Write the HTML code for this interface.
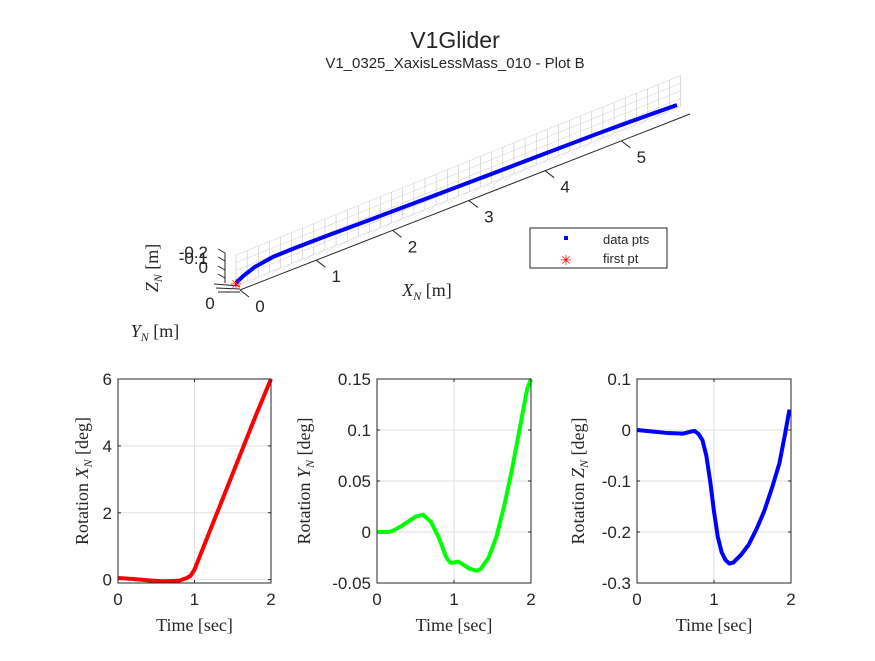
<!DOCTYPE html>
<html><head><meta charset="utf-8"><style>
body{margin:0;background:#fff;}
svg text{font-family:"Liberation Sans",sans-serif;fill:#262626;}
.ser{font-family:"Liberation Serif",serif;}
</style></head><body>
<svg id="fig" width="875" height="656" viewBox="0 0 875 656" xmlns="http://www.w3.org/2000/svg">
<rect width="875" height="656" fill="#fff"/>
<text x="455" y="48" font-size="23" text-anchor="middle">V1Glider</text>
<text x="455" y="68" font-size="15" text-anchor="middle">V1_0325_XaxisLessMass_010 - Plot B</text>
<g id="p3d"></g>
<g id="s1"></g>
<g id="s2"></g>
<g id="s3"></g>
</svg>
<script>
// 3D trajectory samples along X_N with screen-projected height
const trajX=[0,0.1,0.25,0.5,0.8,1.2,1.8,2.5,3.2,4.0,4.8,5.3,5.6,5.9];
const trajZ=[0,0.03,0.06,0.08,0.08,0.075,0.065,0.055,0.045,0.035,0.025,0.015,0.008,0];
const x3Ticks=[0,1,2,3,4,5];
// subplots
const timeA=[0,0.2,0.4,0.6,0.8,0.9,0.95,1.0,1.2,1.4,1.6,1.8,2.0];
const rotX=[0.05,0.02,-0.02,-0.05,-0.03,0.05,0.12,0.3,1.45,2.6,3.75,4.9,6.0];
const timeB=[0,0.15,0.2,0.3,0.4,0.5,0.6,0.7,0.8,0.9,0.95,1.0,1.05,1.1,1.2,1.3,1.35,1.45,1.55,1.65,1.75,1.85,1.95,2.0];
const rotY=[0,0,0.001,0.005,0.01,0.015,0.017,0.01,-0.005,-0.025,-0.03,-0.03,-0.029,-0.031,-0.036,-0.038,-0.036,-0.025,-0.005,0.025,0.06,0.1,0.14,0.15];
const timeC=[0,0.2,0.4,0.6,0.7,0.75,0.8,0.85,0.9,0.95,1.0,1.05,1.1,1.15,1.2,1.25,1.35,1.45,1.55,1.65,1.75,1.85,1.92,1.98];
const rotZ=[0,-0.003,-0.006,-0.007,-0.003,-0.002,-0.008,-0.02,-0.05,-0.1,-0.16,-0.21,-0.24,-0.255,-0.262,-0.26,-0.245,-0.225,-0.195,-0.16,-0.115,-0.065,-0.01,0.04];
const NS='http://www.w3.org/2000/svg';
function mk(p,t,a){const e=document.createElementNS(NS,t);for(const k in a)e.setAttribute(k,a[k]);p.appendChild(e);return e;}

// ---- 3D plot ----
const g3=document.getElementById('p3d');
const o={x:236,y:283},ex={x:(677-236)/5.9,y:(105-283)/5.9};
function P(x,z){return {x:o.x+ex.x*x, y:o.y+ex.y*x - z*140};}
for(let i=0;i<=40;i++){const x=i*5.95/40;const a=P(x,-0.02),b=P(x,0.2);
 let l=mk(g3,'line',{x1:a.x,y1:a.y,x2:b.x,y2:b.y,stroke:'#bbb','stroke-width':0.5});
 
 let l2=mk(g3,'line',{x1:a.x,y1:a.y,x2:a.x-10,y2:a.y+7,stroke:'#ccc','stroke-width':0.4});
 }
for(let j=0;j<=4;j++){const a=P(0,-0.02+j*0.055),b=P(5.95,-0.02+j*0.055);
 let l=mk(g3,'line',{x1:a.x,y1:a.y,x2:b.x,y2:b.y,stroke:'#ccc','stroke-width':0.5});
 }
let xa=mk(g3,'line',{x1:240,y1:290,x2:690,y2:114,stroke:'#262626','stroke-width':1});

x3Ticks.forEach(v=>{const bx=240+v*(450/5.9),by=290-v*(176/5.9);
 let t=mk(g3,'line',{x1:bx,y1:by,x2:bx+9,y2:by+7,stroke:'#262626','stroke-width':1});
 
 let tx=mk(g3,'text',{x:bx+20,y:by+22,'font-size':17,'text-anchor':'middle'});tx.textContent=v;
 });
let za=mk(g3,'line',{x1:225,y1:253,x2:225,y2:283,stroke:'#262626','stroke-width':1});

[253,261,270,278].forEach(y=>{let t=mk(g3,'line',{x1:218,y1:y-4,x2:225,y2:y,stroke:'#262626'});});
[[-0.2,258],[-0.1,264],[0,273]].forEach(([v,y])=>{let tx=mk(g3,'text',{x:208,y:y,'font-size':17,'text-anchor':'end'});tx.textContent=v;});
[[214,284,240,286],[216,288,240,289],[218,292,240,292]].forEach(c=>{let t=mk(g3,'line',{x1:c[0],y1:c[1],x2:c[2],y2:c[3],stroke:'#262626'});});
let y0=mk(g3,'text',{x:210,y:309,'font-size':17,'text-anchor':'middle'});y0.textContent='0';
let pts=trajX.map((x,i)=>{const p=P(x,trajZ[i]);return p.x+','+p.y;}).join(' ');
let tr=mk(g3,'polyline',{points:pts,fill:'none',stroke:'#0000ff','stroke-width':4});

const fp=P(trajX[0],trajZ[0]);
let st=mk(g3,'text',{x:fp.x,y:fp.y+6,'font-size':14,'text-anchor':'middle'});st.textContent='✳';st.style.fill='#f00';

let xl=mk(g3,'text',{x:427,y:296,'font-size':18,'text-anchor':'middle',class:'ser'});xl.innerHTML='<tspan font-style="italic">X</tspan><tspan font-size="12" dy="4" font-style="italic">N</tspan><tspan dy="-4"> [m]</tspan>';

let yl=mk(g3,'text',{x:155,y:337,'font-size':18,'text-anchor':'middle',class:'ser'});yl.innerHTML='<tspan font-style="italic">Y</tspan><tspan font-size="12" dy="4" font-style="italic">N</tspan><tspan dy="-4"> [m]</tspan>';

let zl=mk(g3,'text',{x:0,y:0,'font-size':18,'text-anchor':'middle',class:'ser',transform:'translate(158,268) rotate(-90)'});zl.innerHTML='<tspan font-style="italic">Z</tspan><tspan font-size="12" dy="4" font-style="italic">N</tspan><tspan dy="-4"> [m]</tspan>';

let lg=mk(g3,'g',{});
mk(lg,'rect',{x:530,y:228,width:137,height:40,fill:'#fff',stroke:'#262626','stroke-width':1});
mk(lg,'rect',{x:564,y:236,width:4,height:4,fill:'#00f'});
let l1=mk(lg,'text',{x:603,y:244,'font-size':13});l1.textContent='data pts';
let l2=mk(lg,'text',{x:566,y:265,'font-size':14,'text-anchor':'middle'});l2.textContent='✳';l2.style.fill='#f00';
let l3=mk(lg,'text',{x:603,y:263,'font-size':13});l3.textContent='first pt';

// ---- subplots ----
function sub(id,x0,x1,ymin,ymax,ticks,labels,tarr,varr,color,ylab,ytx){
 const g=document.getElementById(id),y0=379,y1=583;
 const sx=t=>x0+(t/2)*(x1-x0), sy=v=>y1-(v-ymin)/(ymax-ymin)*(y1-y0);
 mk(g,'rect',{x:x0,y:y0,width:x1-x0,height:y1-y0,fill:'#fff'});
 let gl=mk(g,'line',{x1:sx(1),y1:y0,x2:sx(1),y2:y1,stroke:'#dfdfdf'});
 ticks.forEach((v,i)=>{const y=sy(v);
  let h=mk(g,'line',{x1:x0,y1:y,x2:x1,y2:y,stroke:'#dfdfdf'});
  mk(g,'line',{x1:x0,y1:y,x2:x0+3,y2:y,stroke:'#262626'});mk(g,'line',{x1:x1-3,y1:y,x2:x1,y2:y,stroke:'#262626'});
  let t=mk(g,'text',{x:x0-6,y:y+6,'font-size':17,'text-anchor':'end'});t.textContent=labels[i];
  });
 [0,1,2].forEach(v=>{const x=sx(v);mk(g,'line',{x1:x,y1:y1,x2:x,y2:y1-3,stroke:'#262626'});mk(g,'line',{x1:x,y1:y0,x2:x,y2:y0+3,stroke:'#262626'});
  let t=mk(g,'text',{x:x,y:y1+22,'font-size':17,'text-anchor':'middle'});t.textContent=v;
  });
 let ln=mk(g,'polyline',{points:tarr.map((t,i)=>sx(t)+','+sy(varr[i])).join(' '),fill:'none',stroke:color,'stroke-width':4,'stroke-linejoin':'round'});
 
 let bx=mk(g,'rect',{x:x0,y:y0,width:x1-x0,height:y1-y0,fill:'none',stroke:'#262626','stroke-width':1});
 
 let xt=mk(g,'text',{x:(x0+x1)/2,y:y1+48,'font-size':18,'text-anchor':'middle',class:'ser'});xt.textContent='Time [sec]';
 
 let yt=mk(g,'text',{x:0,y:0,'font-size':18,'text-anchor':'middle',class:'ser',transform:'translate('+ytx+','+((y0+y1)/2)+') rotate(-90)'});
 yt.innerHTML='Rotation <tspan font-style="italic">'+ylab+'</tspan><tspan font-size="12" dy="4" font-style="italic">N</tspan><tspan dy="-4"> [deg]</tspan>';
 
}
sub('s1',118,271,-0.1,6,[0,2,4,6],['0','2','4','6'],timeA,rotX,'#ff0000','X',88);
sub('s2',377,531,-0.05,0.15,[-0.05,0,0.05,0.1,0.15],['-0.05','0','0.05','0.1','0.15'],timeB,rotY,'#00ff00','Y',310);
sub('s3',637,791,-0.3,0.1,[-0.3,-0.2,-0.1,0,0.1],['-0.3','-0.2','-0.1','0','0.1'],timeC,rotZ,'#0000ff','Z',584);
</script>
</body></html>
